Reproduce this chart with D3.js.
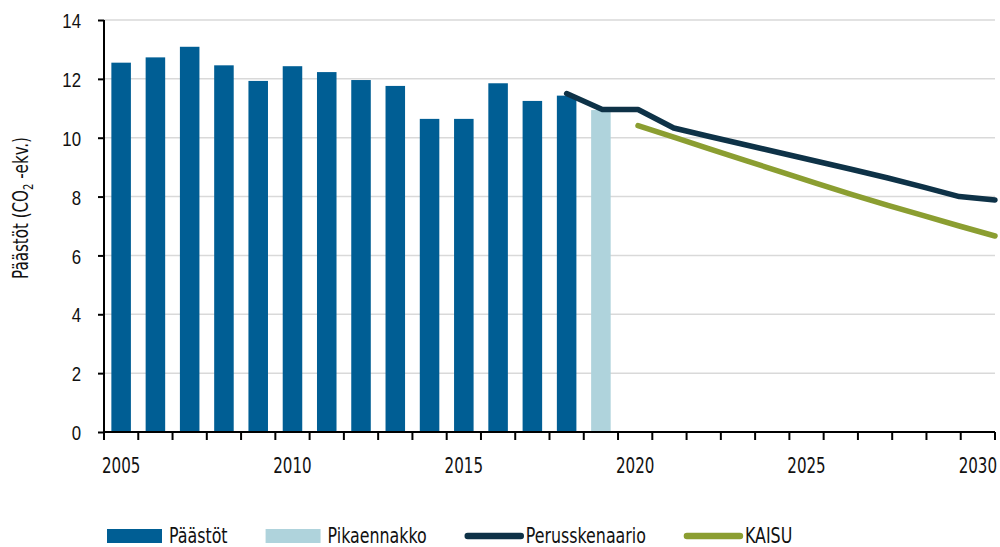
<!DOCTYPE html>
<html>
<head>
<meta charset="utf-8">
<script src="https://cdn.jsdelivr.net/npm/d3@7"></script>
<style>
  body { margin: 0; background: #fff; }
  svg { display: block; font-family: "Liberation Sans Narrow", "DejaVu Sans Condensed", sans-serif; }
</style>
</head>
<body>
<svg id="chart" width="1000" height="547"></svg>
<script>
// vuodet (x-akseli)
const years = d3.range(2005, 2031);
const yTicks = [0, 2, 4, 6, 8, 10, 12, 14];
const xLabels = [2005, 2010, 2015, 2020, 2025, 2030];

// Päästöt 2005-2018
const paastotYears = d3.range(2005, 2019);
const paastot = [12.55, 12.73, 13.09, 12.46, 11.93, 12.43, 12.23, 11.96, 11.76, 10.64, 10.64, 11.85, 11.25, 11.43];

// Pikaennakko 2019
const pikaYears = [2019];
const pika = [10.94];

// Perusskenaario 2018-2030
const perusYears = d3.range(2018, 2031);
const perus = [11.5, 10.96, 10.96, 10.33, 10.04, 9.76, 9.48, 9.2, 8.92, 8.63, 8.32, 8.0, 7.88];

// KAISU 2020-2030
const kaisuYears = d3.range(2020, 2031);
const kaisu = [10.41, 10.02, 9.62, 9.23, 8.84, 8.45, 8.07, 7.7, 7.35, 7.0, 6.66];

const colors = {
  paastot: "#005e94",
  pika: "#afd3dc",
  perus: "#0e3247",
  kaisu: "#8b9e31"
};

const svg = d3.select("#chart");
const mLeft = 104, mRight = 995, mTop = 20, mBottom = 432;
const squeeze = 0.8; // kapea kirjasin

const x = d3.scaleBand().domain(years).range([mLeft, mRight]).paddingInner(0.43).paddingOuter(0.215);
const y = d3.scaleLinear().domain([0, 14]).range([mBottom, mTop]);
// viivat: 2018 palkin keskeltä akselin loppuun
const xl = d3.scaleLinear().domain([2018, 2030]).range([x(2018) + x.bandwidth() / 2, mRight]);

// ruudukko
svg.append("g").selectAll("line")
  .data(yTicks.filter(d => d > 0))
  .join("line")
  .attr("x1", mLeft).attr("x2", mRight)
  .attr("y1", d => y(d)).attr("y2", d => y(d))
  .attr("stroke", "#d9d9d9")
  .attr("stroke-width", 1.5);

// palkit
svg.append("g").selectAll("rect")
  .data(paastotYears.map((yr, i) => ({ yr, v: paastot[i] })))
  .join("rect")
  .attr("x", d => x(d.yr))
  .attr("width", x.bandwidth())
  .attr("y", d => y(d.v))
  .attr("height", d => y(0) - y(d.v))
  .attr("fill", colors.paastot);

svg.append("g").selectAll("rect")
  .data(pikaYears.map((yr, i) => ({ yr, v: pika[i] })))
  .join("rect")
  .attr("x", d => x(d.yr))
  .attr("width", x.bandwidth())
  .attr("y", d => y(d.v))
  .attr("height", d => y(0) - y(d.v))
  .attr("fill", colors.pika);

const line = d3.line().x(d => xl(d.yr)).y(d => y(d.v));

svg.append("path")
  .datum(perusYears.map((yr, i) => ({ yr, v: perus[i] })))
  .attr("d", line)
  .attr("fill", "none")
  .attr("stroke", colors.perus)
  .attr("stroke-width", 5.5)
  .attr("stroke-linejoin", "round")
  .attr("stroke-linecap", "round");

svg.append("path")
  .datum(kaisuYears.map((yr, i) => ({ yr, v: kaisu[i] })))
  .attr("d", line)
  .attr("fill", "none")
  .attr("stroke", colors.kaisu)
  .attr("stroke-width", 5.5)
  .attr("stroke-linejoin", "round")
  .attr("stroke-linecap", "round");

// y-akseli
const yAxis = svg.append("g")
  .attr("transform", `translate(${mLeft},0)`)
  .call(d3.axisLeft(y).tickValues(yTicks).tickSize(6).tickPadding(17));
yAxis.select(".domain").attr("stroke", "#000").attr("stroke-width", 2).attr("d", `M0,${mTop}V${mBottom}`);
yAxis.selectAll(".tick line").attr("stroke", "#000").attr("stroke-width", 2);
yAxis.selectAll(".tick text")
  .attr("font-size", 21).attr("font-family", null).attr("fill", "#111")
  .attr("x", null).attr("dy", "0.36em")
  .attr("transform", `translate(-23,0) scale(${squeeze},1)`);

// x-akseli: väliviivat vuosien rajoilla
const xAxis = svg.append("g").attr("transform", `translate(0,${mBottom})`);
xAxis.append("line")
  .attr("x1", mLeft).attr("x2", mRight)
  .attr("stroke", "#000").attr("stroke-width", 2);
const step = x.step();
xAxis.selectAll("line.tk")
  .data(years.concat([2031]))
  .join("line")
  .attr("class", "tk")
  .attr("x1", d => mLeft + (d - 2005) * step)
  .attr("x2", d => mLeft + (d - 2005) * step)
  .attr("y1", 0).attr("y2", 8)
  .attr("stroke", "#000").attr("stroke-width", 2);
xAxis.selectAll("text")
  .data(xLabels)
  .join("text")
  .attr("transform", d => `translate(${x(d) + x.bandwidth() / 2},41) scale(${squeeze},1)`)
  .attr("text-anchor", "middle")
  .attr("font-size", 21)
  .attr("fill", "#111")
  .text(d => d);

// y-akselin otsikko
const title = svg.append("text")
  .attr("transform", `translate(28,208) rotate(-90) scale(${squeeze},1)`)
  .attr("text-anchor", "middle")
  .attr("font-size", 21)
  .attr("fill", "#111");
title.append("tspan").text("Päästöt (CO");
title.append("tspan").attr("font-size", 14).attr("dy", 5).text("2");
title.append("tspan").attr("dy", -5).text(" -ekv.)");

// selite
const legendItems = [
  { name: "Päästöt", type: "rect", color: colors.paastot },
  { name: "Pikaennakko", type: "rect", color: colors.pika },
  { name: "Perusskenaario", type: "line", color: colors.perus },
  { name: "KAISU", type: "line", color: colors.kaisu }
];
const lScale = 0.84;
let lx = 107;
const ly = 536;
legendItems.forEach(it => {
  const g = svg.append("g").attr("transform", `translate(${lx},${ly})`);
  if (it.type === "rect") {
    g.append("rect").attr("x", 0).attr("y", -7).attr("width", 55).attr("height", 14).attr("fill", it.color);
  } else {
    g.append("line").attr("x1", 3).attr("x2", 56).attr("y1", 0).attr("y2", 0)
      .attr("stroke", it.color).attr("stroke-width", 6.5).attr("stroke-linecap", "round");
  }
  const tx = it.type === "rect" ? 62 : 61;
  const t = g.append("text")
    .attr("transform", `translate(${tx},0) scale(${lScale},1)`)
    .attr("dy", "0.33em")
    .attr("font-size", 21)
    .attr("fill", "#111")
    .text(it.name);
  const w = t.node().getComputedTextLength() * lScale;
  lx += tx + w + 38;
});
</script>
</body>
</html>
